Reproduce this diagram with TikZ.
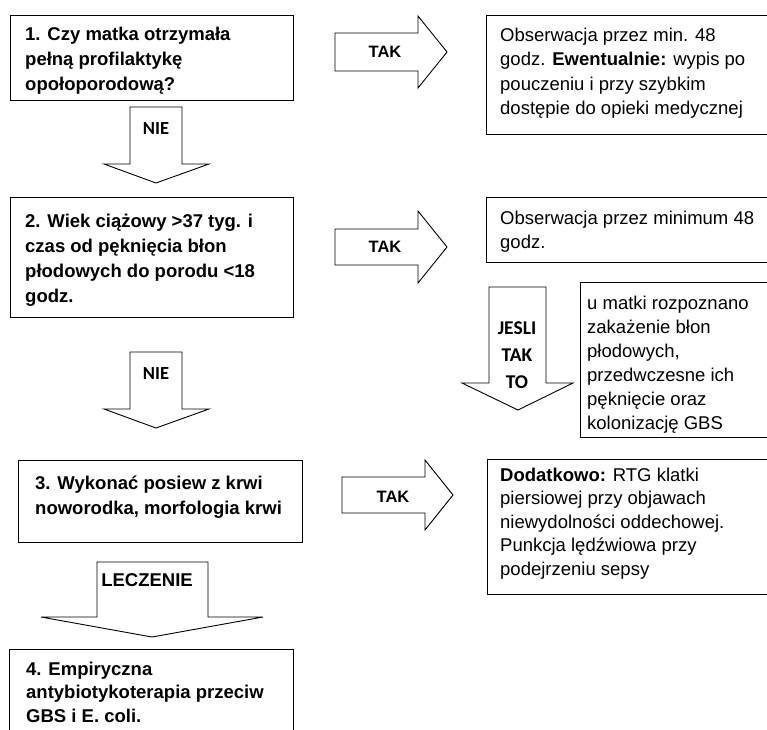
\documentclass[tikz,border=0pt]{standalone}
\usepackage{fontspec}
\setmainfont{Liberation Sans}
\newfontfamily\calibrifont{Carlito}
\begin{document}
\begin{tikzpicture}[x=1pt,y=-1pt,
  box/.style={draw=black, line width=0.9pt, anchor=north west, inner sep=0pt, outer sep=0pt},
  blk/.style={draw=black, line width=0.9pt, fill=white, line join=miter},
  btext/.style={anchor=base west, align=left, inner sep=0pt, font=\fontsize{18.5}{25}\selectfont\bfseries},
  rtext/.style={anchor=base west, align=left, inner sep=0pt, font=\fontsize{18.5}{24.5}\selectfont},
  taklab/.style={anchor=base, inner sep=0pt, font=\fontsize{16.5}{20}\selectfont\bfseries},
  nielab/.style={anchor=base, align=center, inner sep=0pt, font=\fontsize{18.5}{27}\selectfont\calibrifont\bfseries}]
\clip (0,0) rectangle (767,729);
\fill[white] (0,0) rectangle (767,729);

% left boxes
\node[box, minimum width=283, minimum height=85] (b1) at (10,15) {};
\node[box, minimum width=283, minimum height=120] (b2) at (10,197) {};
\node[box, minimum width=284, minimum height=82] (b3) at (18,460) {};
\node[box, minimum width=284, minimum height=100] (b4) at (9,649) {};
% right boxes
\node[box, minimum width=300, minimum height=119] (r1) at (486,15) {};
\node[box, minimum width=300, minimum height=65] (r2) at (486,197) {};
\node[box, minimum width=200, minimum height=155] (r3) at (580,282) {};
\node[box, minimum width=300, minimum height=135] (r4) at (487,459) {};

% texts (anchor = baseline of the last line)
\node[btext] (t1) at (25,90) {1. Czy matka otrzymała\\pełną profilaktykę\\opołoporodową?};
\node[btext] (t2) at (25,302) {2. Wiek ciążowy >37 tyg. i\\czas od pęknięcia błon\\płodowych do porodu <18\\godz.};
\node[btext] (t3) at (35,514) {3. Wykonać posiew z krwi\\noworodka, morfologia krwi};
\node[btext, font=\fontsize{18.5}{23.5}\selectfont\bfseries] (t4) at (26,722) {4. Empiryczna\\antybiotykoterapia przeciw\\GBS i E. coli.};
\node[rtext] (s1) at (500,114.5) {Obserwacja przez min. 48\\godz. \textbf{Ewentualnie:} wypis po\\pouczeniu i przy szybkim\\dostępie do opieki medycznej};
\node[rtext] (s2) at (500,248.5) {Obserwacja przez minimum 48\\godz.};
\node[rtext, font=\fontsize{18.5}{24}\selectfont] (s3) at (587,429) {u matki rozpoznano\\zakażenie błon\\płodowych,\\przedwczesne ich\\pęknięcie oraz\\kolonizację GBS};
\node[rtext, font=\fontsize{18.5}{23.5}\selectfont] (s4) at (500,575) {\textbf{Dodatkowo:} RTG klatki\\piersiowej przy objawach\\niewydolności oddechowej.\\Punkcja lędźwiowa przy\\podejrzeniu sepsy};

% down arrows
\draw[blk] (130,107) -- (182,107) -- (182,164) -- (209,164) -- (156,183) -- (104,164) -- (130,164) -- cycle;
\draw[blk] (130,352) -- (182,352) -- (182,409) -- (209,409) -- (156,428) -- (104,409) -- (130,409) -- cycle;
\draw[blk] (97,562) -- (208,562) -- (208,617) -- (263,617) -- (152,637) -- (41,617) -- (97,617) -- cycle;
\draw[blk] (489,287) -- (546,287) -- (546,383) -- (573,383) -- (518,410) -- (462,383) -- (489,383) -- cycle;
% right arrows
\draw[blk] (335,33) -- (418,33) -- (418,16) -- (447,52) -- (418,88) -- (418,71) -- (335,71) -- cycle;
\draw[blk] (335,229) -- (418,229) -- (418,211) -- (447,247) -- (418,283) -- (418,265) -- (335,265) -- cycle;
\draw[blk] (342,477) -- (425,477) -- (425,460) -- (453,495) -- (425,530) -- (425,513) -- (342,513) -- cycle;

% arrow labels
\node[nielab] (n1) at (156,134) {NIE};
\node[nielab] (n2) at (156,379) {NIE};
\node[taklab, font=\fontsize{18.5}{20}\selectfont\bfseries] (lec) at (147,586) {LECZENIE};
\node[nielab, font=\fontsize{19.5}{27}\selectfont\calibrifont\bfseries] (jes) at (517,388) {JESLI\\TAK\\TO};
\node[taklab] (k1) at (385,57) {TAK};
\node[taklab] (k2) at (385,252) {TAK};
\node[taklab] (k3) at (393,502) {TAK};
\end{tikzpicture}
\end{document}
